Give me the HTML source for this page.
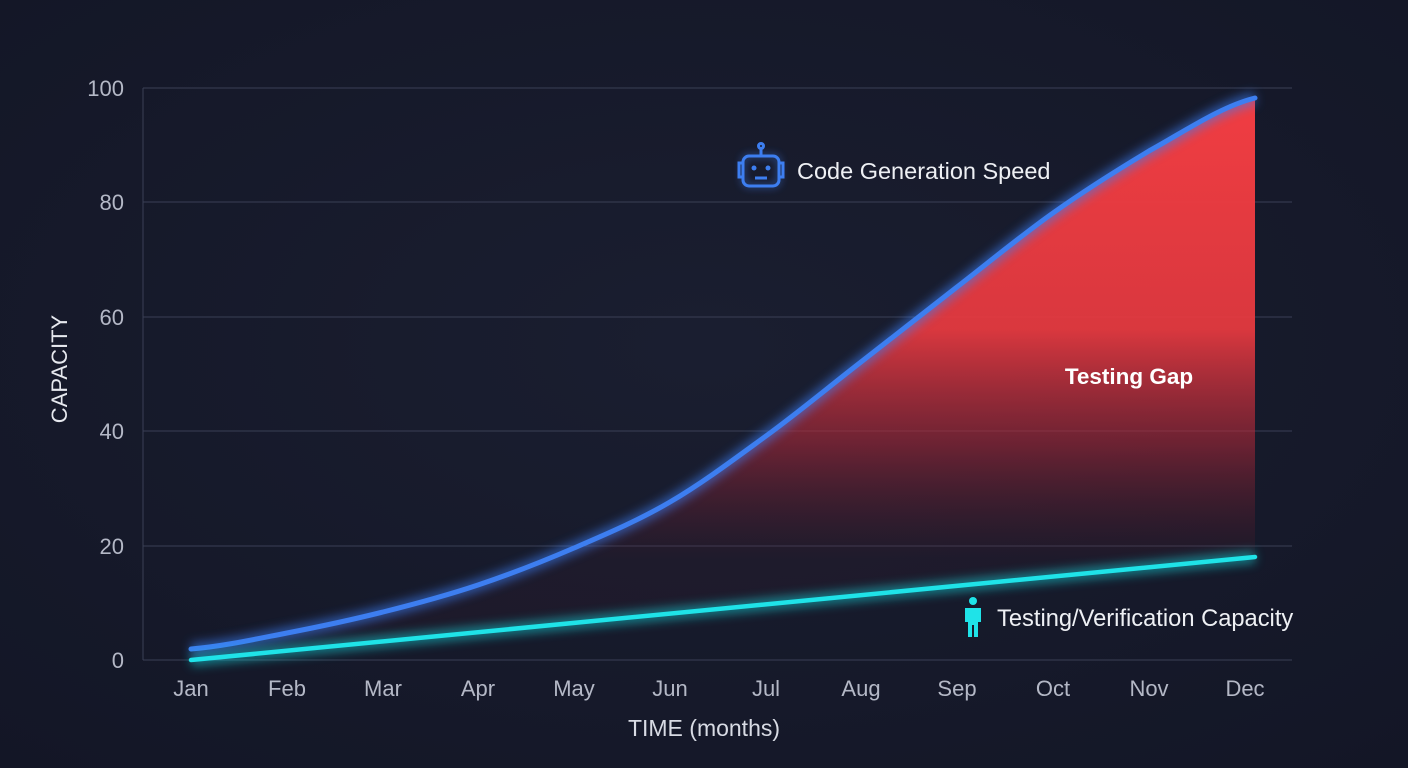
<!DOCTYPE html>
<html><head><meta charset="utf-8"><style>
html,body{margin:0;padding:0;background:#161a2b;}
svg{display:block;}
text{font-family:"Liberation Sans",sans-serif;}
</style></head><body>
<svg width="1408" height="768" viewBox="0 0 1408 768">
<defs>
<radialGradient id="bg" cx="50%" cy="45%" r="75%"><stop offset="0" stop-color="#1a1e30"/><stop offset="1" stop-color="#131626"/></radialGradient>
<linearGradient id="red" gradientUnits="userSpaceOnUse" x1="0" y1="100" x2="0" y2="560">
<stop offset="0" stop-color="#f03d42" stop-opacity="1"/>
<stop offset="0.5" stop-color="#ea3a40" stop-opacity="0.92"/>
<stop offset="0.75" stop-color="#b02838" stop-opacity="0.55"/>
<stop offset="1" stop-color="#5a1a2a" stop-opacity="0.1"/>
</linearGradient>
<filter id="glow" x="-10%" y="-20%" width="120%" height="140%"><feGaussianBlur stdDeviation="5"/></filter>
<filter id="glow2" x="-50%" y="-50%" width="200%" height="200%"><feGaussianBlur stdDeviation="4"/></filter>
</defs>
<rect width="1408" height="768" fill="url(#bg)"/>
<g stroke="#3a3f55" stroke-width="1">
<line x1="143" y1="88" x2="1292" y2="88"/><line x1="143" y1="202" x2="1292" y2="202"/>
<line x1="143" y1="317" x2="1292" y2="317"/><line x1="143" y1="431" x2="1292" y2="431"/>
<line x1="143" y1="546" x2="1292" y2="546"/><line x1="143" y1="660" x2="1292" y2="660"/>
<line x1="143" y1="88" x2="143" y2="660"/>
</g>
<g fill="#b4b8c6" font-size="22" text-anchor="end">
<text x="124" y="96">100</text><text x="124" y="210">80</text><text x="124" y="325">60</text>
<text x="124" y="439">40</text><text x="124" y="554">20</text><text x="124" y="668">0</text>
</g>
<g fill="#b4b8c6" font-size="22" text-anchor="middle">
<text x="191" y="696">Jan</text><text x="287" y="696">Feb</text><text x="383" y="696">Mar</text>
<text x="478" y="696">Apr</text><text x="574" y="696">May</text><text x="670" y="696">Jun</text>
<text x="766" y="696">Jul</text><text x="861" y="696">Aug</text><text x="957" y="696">Sep</text>
<text x="1053" y="696">Oct</text><text x="1149" y="696">Nov</text><text x="1245" y="696">Dec</text>
</g>
<text x="704" y="736" fill="#d8dbe4" font-size="23" text-anchor="middle">TIME (months)</text>
<text transform="translate(67,369) rotate(-90)" fill="#e6e8ee" font-size="22" text-anchor="middle">CAPACITY</text>
<path id="fillp" d="M191,649 C223,646.3 255,639.2 287,633 C319,626.8 351,620 383,612 C415,604 446,595.7 478,585 C510,574.3 542,561.8 574,548 C606,534.2 638,520.7 670,502 C702,483.3 734,459.3 766,436 C798,412.7 829,386.8 861,362 C893,337.2 925,311.8 957,287 C989,262.2 1021,235.7 1053,213 C1085,190.3 1117,170.2 1149,151 C1184,131.8 1220,106.8 1255,98 L1255,557 L191,660 Z" fill="url(#red)"/>
<path d="M191,649 C223,646.3 255,639.2 287,633 C319,626.8 351,620 383,612 C415,604 446,595.7 478,585 C510,574.3 542,561.8 574,548 C606,534.2 638,520.7 670,502 C702,483.3 734,459.3 766,436 C798,412.7 829,386.8 861,362 C893,337.2 925,311.8 957,287 C989,262.2 1021,235.7 1053,213 C1085,190.3 1117,170.2 1149,151 C1184,131.8 1220,106.8 1255,98" fill="none" stroke="#3a7bf0" stroke-width="12" opacity="0.6" filter="url(#glow)"/>
<path d="M191,649 C223,646.3 255,639.2 287,633 C319,626.8 351,620 383,612 C415,604 446,595.7 478,585 C510,574.3 542,561.8 574,548 C606,534.2 638,520.7 670,502 C702,483.3 734,459.3 766,436 C798,412.7 829,386.8 861,362 C893,337.2 925,311.8 957,287 C989,262.2 1021,235.7 1053,213 C1085,190.3 1117,170.2 1149,151 C1184,131.8 1220,106.8 1255,98" fill="none" stroke="#3d7ef0" stroke-width="5" stroke-linecap="round"/>
<line x1="191" y1="660" x2="1255" y2="557" stroke="#19e0e6" stroke-width="12" opacity="0.5" filter="url(#glow)"/>
<line x1="191" y1="660" x2="1255" y2="557" stroke="#1fe3e8" stroke-width="4.5" stroke-linecap="round"/>
<text x="1129" y="384" fill="#ffffff" font-size="22.5" font-weight="bold" text-anchor="middle">Testing Gap</text>
<g stroke="#3d7ef0" fill="none" stroke-width="3">
<g filter="url(#glow2)" opacity="0.7"><rect x="743" y="156" width="36" height="30" rx="6"/></g>
<rect x="743" y="156" width="36" height="30" rx="6"/>
<line x1="761" y1="156" x2="761" y2="148"/>
<circle cx="761" cy="146" r="2.5"/>
<path d="M743,163 h-4 v14 h4 M779,163 h4 v14 h-4"/>
<line x1="755" y1="178" x2="767" y2="178"/>
</g>
<circle cx="754" cy="168" r="2.5" fill="#3d7ef0"/><circle cx="768" cy="168" r="2.5" fill="#3d7ef0"/>
<text x="797" y="179" fill="#eef0f4" font-size="23.5">Code Generation Speed</text>
<g fill="#1fe3e8">
<circle cx="973" cy="601" r="4"/>
<path d="M965,608 h16 v14 h-3 v15 h-4 v-12 h-2 v12 h-4 v-15 h-3 z"/>
</g>
<text x="997" y="626" fill="#eef0f4" font-size="23.7">Testing/Verification Capacity</text>
</svg>
</body></html>
